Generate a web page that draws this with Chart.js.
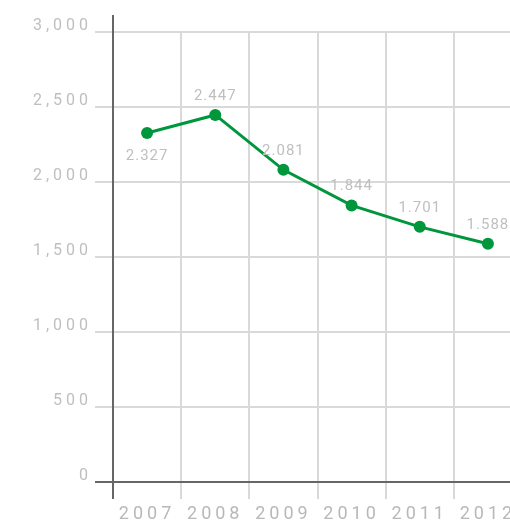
<!DOCTYPE html>
<html>
<head>
<meta charset="utf-8">
<script src="https://cdn.jsdelivr.net/npm/chart.js@4.4.0/dist/chart.umd.min.js"></script>
<style>
  html, body { margin: 0; padding: 0; background: #fff; overflow: hidden; }
  #wrap { width: 530px; height: 522px; }
</style>
</head>
<body>
<div id="wrap"><canvas id="chart1" width="530" height="522"></canvas></div>
<script>
// chart data
var years = ['2007', '2008', '2009', '2010', '2011', '2012'];
var values = [2327, 2447, 2081, 1844, 1701, 1588];
var valueLabels = ['2.327', '2.447', '2.081', '1.844', '1.701', '1.588'];
var labelBelow = [true, false, false, false, false, false];

var axisDark = '#666666';
var gridLight = '#d9d9d9';
var green = '#00963c';

// canvas letter spacing (resets when canvas is resized, so set it again)
var spacingPlugin = {
  id: 'spacing',
  beforeLayout: function (chart) { chart.ctx.letterSpacing = '4px'; },
  beforeDraw: function (chart) { chart.ctx.letterSpacing = '4px'; }
};

// y axis line that runs past the top grid line
var axisPlugin = {
  id: 'axisLine',
  afterDraw: function (chart) {
    var ctx = chart.ctx;
    var a = chart.chartArea;
    ctx.save();
    ctx.strokeStyle = axisDark;
    ctx.lineWidth = 2;
    ctx.beginPath();
    ctx.moveTo(a.left, a.top - 17);
    ctx.lineTo(a.left, a.bottom + 17);
    ctx.stroke();
    ctx.restore();
  }
};

// value labels next to the points
var valuePlugin = {
  id: 'valueLabels',
  afterDatasetsDraw: function (chart) {
    var ctx = chart.ctx;
    var meta = chart.getDatasetMeta(0);
    ctx.save();
    ctx.letterSpacing = '1px';
    ctx.font = '15px Roboto';
    ctx.fillStyle = '#bfbfbf';
    ctx.textAlign = 'center';
    ctx.textBaseline = 'middle';
    meta.data.forEach(function (pt, i) {
      var dy = labelBelow[i] ? 23 : -19;
      ctx.fillText(valueLabels[i], pt.x, pt.y + dy);
    });
    ctx.restore();
  }
};

var ctx1 = document.getElementById('chart1').getContext('2d');
var chart1 = new Chart(ctx1, {
  type: 'line',
  data: {
    labels: years,
    datasets: [{
      data: values,
      borderColor: green,
      backgroundColor: green,
      borderWidth: 3,
      pointRadius: 6,
      pointHoverRadius: 6,
      pointBackgroundColor: green,
      pointBorderWidth: 0,
      fill: false,
      tension: 0
    }]
  },
  options: {
    responsive: false,
    animation: false,
    layout: { padding: { top: 32, right: 8, left: 0, bottom: 0 } },
    plugins: {
      legend: { display: false },
      tooltip: { enabled: false }
    },
    scales: {
      x: {
        offset: true,
        grid: {
          offset: true,
          tickLength: 17,
          color: function (c) { return c.index === 0 ? axisDark : gridLight; },
          lineWidth: 2
        },
        border: { display: false },
        ticks: {
          color: '#b8b8b8',
          font: { family: 'Roboto', size: 18 },
          padding: 5,
          maxRotation: 0
        },
        afterFit: function (scale) { scale.height = 40; }
      },
      y: {
        min: 0,
        max: 3000,
        grid: {
          tickLength: 18,
          color: function (c) { return c.tick && c.tick.value === 0 ? axisDark : gridLight; },
          lineWidth: 2
        },
        border: { display: false },
        ticks: {
          stepSize: 500,
          color: '#bfbfbf',
          font: { family: 'Roboto', size: 16 },
          padding: 3,
          labelOffset: -6,
          callback: function (v) { return v.toLocaleString('en-US'); }
        },
        afterFit: function (scale) { scale.width = 113; }
      }
    }
  },
  plugins: [spacingPlugin, axisPlugin, valuePlugin]
});
</script>
</body>
</html>
